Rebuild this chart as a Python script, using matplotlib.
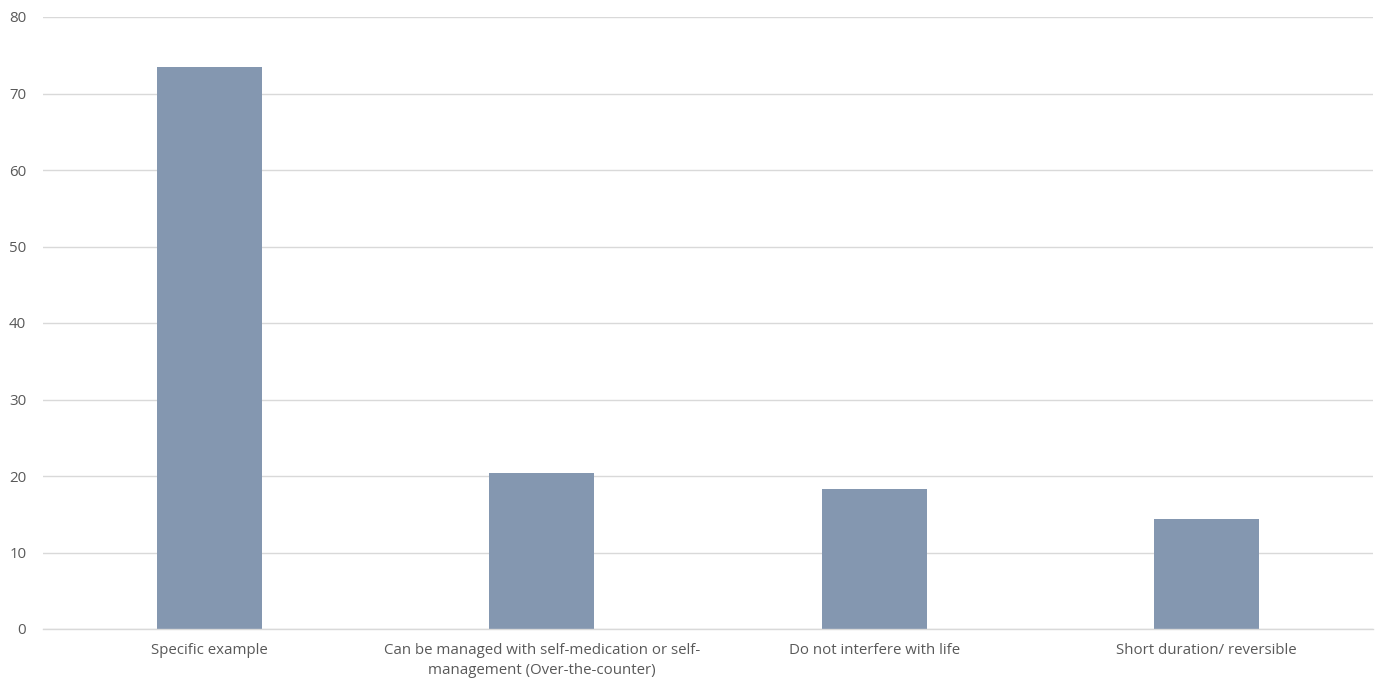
import matplotlib.pyplot as plt

categories = [
    'Specific example',
    'Can be managed with self-medication or self-\nmanagement (Over-the-counter)',
    'Do not interfere with life',
    'Short duration/ reversible',
]
values = [73.4, 20.4, 18.3, 14.4]
y_ticks = [0, 10, 20, 30, 40, 50, 60, 70, 80]

bar_color = '#8497B0'
text_color = '#595959'
grid_color = '#D9D9D9'

plt.rcParams['font.family'] = ['Open Sans', 'DejaVu Sans']

fig = plt.figure(figsize=(13.79, 6.82), dpi=100)
ax = fig.add_axes([43 / 1379, 53 / 682, 1330 / 1379, 612 / 682])

x = range(len(categories))
ax.bar(x, values, width=0.316, color=bar_color, zorder=2)

ax.set_xlim(-0.5, len(categories) - 0.5)
ax.set_ylim(0, 80)
ax.set_yticks(y_ticks)
ax.set_xticks(list(x))
ax.set_xticklabels(categories, fontsize=10.8, color=text_color, linespacing=1.5)
ax.tick_params(axis='y', labelsize=10.8, labelcolor=text_color, length=0, pad=12)
ax.tick_params(axis='x', length=0, pad=10)

ax.grid(axis='y', color=grid_color, linewidth=1, zorder=0)
for side in ['top', 'right', 'left']:
    ax.spines[side].set_visible(False)
ax.spines['bottom'].set_color(grid_color)
ax.spines['bottom'].set_linewidth(1)

plt.savefig('out.png', dpi=100)
plt.close(fig)
